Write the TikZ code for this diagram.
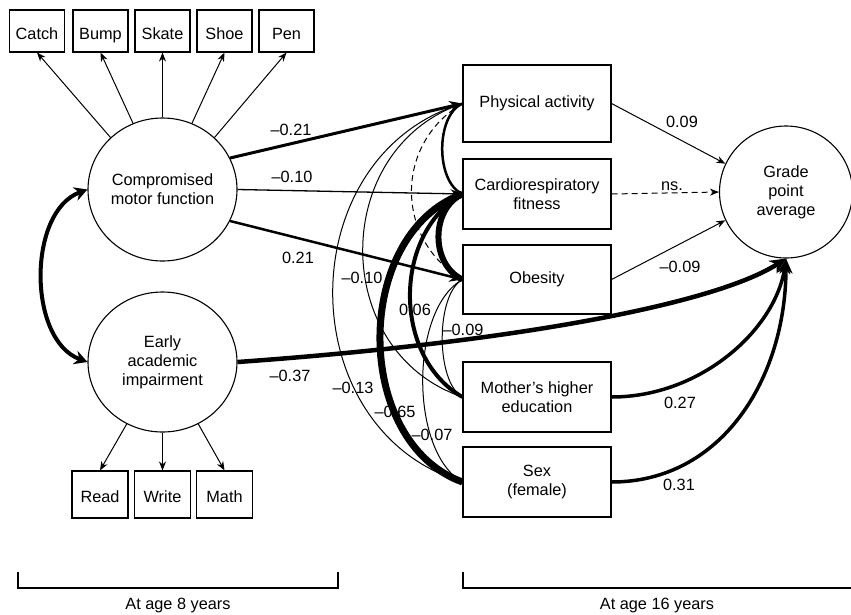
\documentclass[tikz,border=0pt]{standalone}
\usepackage{fontspec}
\setmainfont{Liberation Sans}
\usetikzlibrary{arrows.meta,shapes.geometric,calc}
\begin{document}
\begin{tikzpicture}[x=1pt,y=-1pt,
  font=\fontsize{16.3}{19}\selectfont,
  smallbox/.style={draw, line width=1.1pt, minimum width=55pt, minimum height=42pt, inner sep=0pt, text height=16pt, text depth=0pt},
  bigbox/.style={draw, line width=1.1pt, minimum width=148pt, minimum height=70pt, inner sep=0pt, align=center},
  latent/.style={draw, ellipse, line width=1.1pt, minimum width=149pt, minimum height=143pt, inner sep=-4pt, align=center},
  arr/.style={line width=1pt, -{Stealth[length=9pt,width=7pt]}},
  corr/.style={line cap=butt},
  lbl/.style={anchor=base, inner sep=0pt},
  dsh/.style={dash pattern=on 6pt off 4pt}]
\useasboundingbox (0,0) rectangle (851,614);

% measurement indicators
\node[smallbox] (catch) at (37,31) {Catch};
\node[smallbox] (bump) at (100.5,31) {Bump};
\node[smallbox] (skate) at (162.5,31) {Skate};
\node[smallbox] (shoe) at (224.5,31) {Shoe};
\node[smallbox] (pen) at (286.5,31) {Pen};

% latent variables
\node[latent] (motor) at (162.5,189.5) {Compromised\\motor function};
\node[latent, minimum height=140pt] (acad) at (162.5,362) {Early\\academic\\impairment};

\node[smallbox, minimum width=56pt, minimum height=47pt] (read) at (100,494.5) {Read};
\node[smallbox, minimum width=56pt, minimum height=47pt] (write) at (162.5,494.5) {Write};
\node[smallbox, minimum width=56pt, minimum height=47pt] (math) at (224.5,494.5) {Math};

% age-16 variables
\node[bigbox, minimum height=77pt] (pa) at (537,103.5) {Physical activity};
\node[bigbox] (cardio) at (537,194) {Cardiorespiratory\\fitness};
\node[bigbox, minimum height=69pt] (obes) at (537,279.5) {Obesity};
\node[bigbox] (mother) at (537,397) {Mother’s higher\\education};
\node[bigbox] (sex) at (537,482) {Sex\\(female)};

\node[latent, minimum width=133pt, minimum height=132pt] (gpa) at (786,192) {Grade\\point\\average};

% loadings
\draw[arr] (motor.135) -- (catch.south);
\draw[arr] (motor.114) -- (bump.south);
\draw[arr] (motor.90) -- (skate.south);
\draw[arr] (motor.66) -- (shoe.south);
\draw[arr] (motor.45) -- (pen.south);
\draw[arr] (acad.240) -- (read.north);
\draw[arr] (acad.270) -- (write.north);
\draw[arr] (acad.300) -- (math.north);

% latent correlation
\draw[line width=4pt, {Stealth[length=13pt,width=14pt]}-{Stealth[length=13pt,width=14pt]}]
  (motor.west) .. controls ($(motor.west)+(-60,22)$) and ($(acad.west)+(-60,-22)$) .. (acad.west);

% correlations among age-16 variables
\draw[corr, line width=2.5pt] (pa.west) .. controls ($(pa.west)+(-27,12)$) and ($(cardio.west)+(-27,-12)$) .. (cardio.west);
\draw[corr, line width=1pt, dsh] (pa.west) .. controls ($(pa.west)+(-68,40)$) and ($(obes.west)+(-68,-40)$) .. (obes.west);
\draw[corr, line width=1pt] (pa.west) .. controls ($(pa.west)+(-133,45)$) and ($(mother.west)+(-133,-45)$) .. (mother.west);
\draw[corr, line width=1pt] (pa.west) .. controls ($(pa.west)+(-173,52)$) and ($(sex.west)+(-173,-52)$) .. (sex.west);
\draw[corr, line width=6pt] (cardio.west) .. controls ($(cardio.west)+(-32,15)$) and ($(obes.west)+(-32,-15)$) .. (obes.west);
\draw[corr, line width=4pt] (cardio.west) .. controls ($(cardio.west)+(-70,40)$) and ($(mother.west)+(-70,-40)$) .. (mother.west);
\draw[corr, line width=7pt] (cardio.west) .. controls ($(cardio.west)+(-110,40)$) and ($(sex.west)+(-110,-40)$) .. (sex.west);
\draw[corr, line width=1pt] (obes.west) .. controls ($(obes.west)+(-27,15)$) and ($(mother.west)+(-27,-15)$) .. (mother.west);
\draw[corr, line width=1pt] (obes.west) .. controls ($(obes.west)+(-53,30)$) and ($(sex.west)+(-53,-30)$) .. (sex.west);

% regression paths
\draw[line width=3pt, -{Stealth[length=13pt,width=11pt]}] (motor.25) -- (pa.west);
\draw[line width=1.3pt, -{Stealth[length=12pt,width=9pt]}] (motor.east) -- (cardio.west);
\draw[line width=2.5pt, -{Stealth[length=13pt,width=11pt]}] (motor.-25) -- (obes.west);
\draw[line width=4.5pt, -{Stealth[length=16pt,width=15pt]}]
  (acad.east) .. controls ($(acad.east)+(280,-20)$) and ($(gpa.south)+(-70,45)$) .. (gpa.south);
\draw[arr] (pa.east) -- (gpa.155);
\draw[arr, dsh] (cardio.east) -- (gpa.west);
\draw[arr] (obes.east) -- (gpa.205);
\draw[line width=3.5pt, -{Stealth[length=15pt,width=13pt]}]
  (mother.east) .. controls ($(mother.east)+(90,0)$) and ($(gpa.south)+(-10,70)$) .. (gpa.south);
\draw[line width=3.5pt, -{Stealth[length=15pt,width=13pt]}]
  (sex.east) .. controls ($(sex.east)+(110,0)$) and ($(gpa.south)+(0,120)$) .. (gpa.south);

% coefficients
\node[lbl] at (291,135) {–0.21};
\node[lbl] at (292,182) {–0.10};
\node[lbl] at (298,263) {0.21};
\node[lbl] at (362,283) {–0.10};
\node[lbl] at (415,315) {0.06};
\node[lbl] at (463,335) {–0.09};
\node[lbl] at (353,393) {–0.13};
\node[lbl] at (395,417) {–0.65};
\node[lbl] at (432,440) {–0.07};
\node[lbl] at (290,381) {–0.37};
\node[lbl] at (682,127) {0.09};
\node[lbl] at (672,190) {ns.};
\node[lbl] at (680,272) {–0.09};
\node[lbl] at (680,408) {0.27};
\node[lbl] at (679,490) {0.31};

% age brackets
\draw[line width=1.3pt] (18,572) -- (18,588) -- (338,588) -- (338,572);
\draw[line width=1.3pt] (463,572) -- (463,588) -- (851,588);
\node[lbl] at (178,609) {At age 8 years};
\node[lbl] at (657,609) {At age 16 years};
\end{tikzpicture}
\end{document}
